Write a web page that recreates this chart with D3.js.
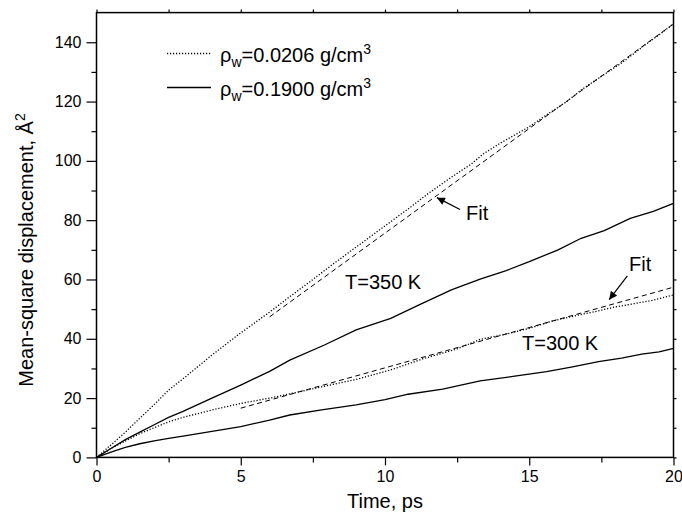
<!DOCTYPE html>
<html>
<head>
<meta charset="utf-8">
<script src="https://cdn.jsdelivr.net/npm/d3@7"></script>
<style>
  body { margin: 0; background: #fff; }
  svg { display: block; font-family: "Liberation Sans", Arial, sans-serif; }
</style>
</head>
<body>
<div id="chart"></div>
<script>
// time (ps) and MSD (A^2)
const t_350_low = [0, 0.5, 1, 1.5, 2, 2.5, 3, 4, 5, 6, 6.7, 7.5, 8.2, 8.8, 9.5, 10.2, 10.9, 11.5, 12.3, 13, 13.4, 14, 15, 15.6, 16.3, 16.8, 17.5, 18.2, 19, 19.5, 20];
const v_350_low = [0, 4.2, 8.5, 13.2, 17.8, 22.7, 26.5, 34.5, 42, 49, 54.2, 60, 65.2, 69.5, 74.5, 79.5, 84.5, 89, 94.5, 99, 102.3, 106, 111.5, 115.5, 120, 123.9, 128.5, 133, 139, 142.5, 146.2];

const t_350_high = [0, 0.5, 1, 1.5, 2, 2.5, 3, 4, 5, 6, 6.7, 7.9, 9, 10.2, 11.2, 12.3, 13.3, 14.2, 15, 16, 16.8, 17.6, 18.5, 19.3, 20];
const v_350_high = [0, 3, 6, 8.5, 11, 13.5, 15.5, 20, 24.4, 29, 32.8, 37.9, 43, 46.9, 51.5, 56.5, 60.1, 63, 66, 70, 73.9, 76.5, 80.6, 83, 85.7];

const t_300_low = [0, 0.5, 1, 1.5, 2, 2.5, 3, 4, 5, 6, 6.7, 7.8, 9, 10.2, 11.3, 12.5, 13.3, 14.2, 15, 15.8, 16.7, 17.3, 17.9, 18.6, 19.3, 20];
const v_300_low = [0, 3, 5.5, 8, 10, 12, 13.5, 16, 18.2, 20, 21.4, 23.8, 26.3, 29.5, 33.2, 36.6, 39.8, 41.6, 43.5, 46, 48, 49.2, 50.6, 51.8, 53, 54.8];

const t_300_high = [0, 0.5, 1, 1.5, 2, 2.5, 3, 4, 5, 6, 6.7, 7.8, 9, 10, 10.8, 12, 13.3, 14.5, 15.6, 16.5, 17.4, 18.2, 18.9, 19.5, 20];
const v_300_high = [0, 1.8, 3.4, 4.6, 5.6, 6.4, 7.2, 8.8, 10.4, 12.6, 14.3, 16, 17.7, 19.5, 21.3, 23, 25.8, 27.4, 28.9, 30.5, 32.3, 33.5, 34.8, 35.6, 36.8];

// linear fits (dashed)
const t_fit_350 = [6, 20];
const v_fit_350 = [47.4, 146.2];
const t_fit_300 = [5, 20];
const v_fit_300 = [16.6, 57.4];

const x_major = [0, 5, 10, 15, 20];
const x_minor = [2.5, 7.5, 12.5, 17.5];
const y_major = [0, 20, 40, 60, 80, 100, 120, 140];
const y_minor = [10, 30, 50, 70, 90, 110, 130];

const legend_items = [
    { density: "0.0206", dash: "1.2,1.8" },
    { density: "0.1900", dash: null }
];

const width = 682, height = 522;
const svg = d3.select("#chart").append("svg")
    .attr("width", width)
    .attr("height", height);

const x = d3.scaleLinear().domain([0, 20]).range([96.5, 673.5]);
const y = d3.scaleLinear().domain([0, 150]).range([457.4, 12.6]);

const zip = (ts, vs) => ts.map((t, i) => [t, vs[i]]);
const line = d3.line().x(d => x(d[0])).y(d => y(d[1]));

// arrow marker
svg.append("defs").append("marker")
    .attr("id", "arrow")
    .attr("viewBox", "0 0 10 10")
    .attr("refX", 10).attr("refY", 5)
    .attr("markerWidth", 10).attr("markerHeight", 8)
    .attr("markerUnits", "userSpaceOnUse")
    .attr("orient", "auto")
    .append("path")
    .attr("d", "M0,0 L10,5 L0,10 Z")
    .attr("fill", "#000");

// axes
const style_axis = (g, font_size) => {
    g.select(".domain").remove();
    g.selectAll("line").attr("stroke", "#000").attr("stroke-width", 1.2);
    g.selectAll("text").attr("fill", "#000").style("font-size", font_size + "px");
};

svg.append("g")
    .attr("transform", `translate(0,${y(0)})`)
    .call(d3.axisBottom(x).tickValues(x_major).tickSize(8).tickPadding(5).tickFormat(d3.format("d")))
    .call(g => style_axis(g, 16));
svg.append("g")
    .attr("transform", `translate(0,${y(0)})`)
    .call(d3.axisBottom(x).tickValues(x_minor).tickSize(5).tickFormat(""))
    .call(g => style_axis(g, 16));

svg.append("g")
    .attr("transform", `translate(${x(0)},0)`)
    .call(d3.axisLeft(y).tickValues(y_major).tickSize(10).tickPadding(5).tickFormat(d3.format("d")))
    .call(g => style_axis(g, 16));
svg.append("g")
    .attr("transform", `translate(${x(0)},0)`)
    .call(d3.axisLeft(y).tickValues(y_minor).tickSize(5).tickFormat(""))
    .call(g => style_axis(g, 16));

// top and right small ticks
svg.append("g")
    .attr("transform", `translate(0,${y(150)})`)
    .call(d3.axisTop(x).tickValues(x_major.concat(x_minor)).tickSize(3).tickFormat(""))
    .call(g => style_axis(g, 16));
svg.append("g")
    .attr("transform", `translate(${x(20)},0)`)
    .call(d3.axisRight(y).tickValues(y_major.concat(y_minor)).tickSize(3).tickFormat(""))
    .call(g => style_axis(g, 16));

// frame
svg.append("rect")
    .attr("x", x(0)).attr("y", y(150))
    .attr("width", x(20) - x(0)).attr("height", y(0) - y(150))
    .attr("fill", "none")
    .attr("stroke", "#000")
    .attr("stroke-width", 1.5);

// axis titles
svg.append("text")
    .attr("x", x(10)).attr("y", 508)
    .attr("text-anchor", "middle")
    .style("font-size", "20px")
    .text("Time, ps");

const y_title = svg.append("text")
    .attr("transform", "translate(33,250) rotate(-90)")
    .attr("text-anchor", "middle")
    .style("font-size", "20px");
y_title.append("tspan").text("Mean-square displacement, Å");
y_title.append("tspan").attr("dy", -8).style("font-size", "14px").text("2");

// curves
const curves = [
    { data: zip(t_350_low, v_350_low), dash: "1.2,1.8" },
    { data: zip(t_300_low, v_300_low), dash: "1.2,1.8" },
    { data: zip(t_350_high, v_350_high), dash: null },
    { data: zip(t_300_high, v_300_high), dash: null },
    { data: zip(t_fit_350, v_fit_350), dash: "5,3.5", w: 1 },
    { data: zip(t_fit_300, v_fit_300), dash: "5,3.5", w: 1 }
];

svg.append("g").selectAll("path")
    .data(curves)
    .join("path")
    .attr("d", d => line(d.data))
    .attr("fill", "none")
    .attr("stroke", "#000")
    .attr("stroke-width", d => d.w || 1.3)
    .attr("stroke-dasharray", d => d.dash);

// legend
const legend = svg.append("g").selectAll("g")
    .data(legend_items)
    .join("g")
    .attr("transform", (d, i) => `translate(0,${53.5 + i * 34})`);

legend.append("line")
    .attr("x1", 167).attr("x2", 211)
    .attr("stroke", "#000")
    .attr("stroke-width", 1.3)
    .attr("stroke-dasharray", d => d.dash);

const legend_text = legend.append("text")
    .attr("x", 220).attr("y", 8)
    .style("font-size", "20px");
legend_text.append("tspan").text("ρ");
legend_text.append("tspan").attr("dy", 5).style("font-size", "14px").text("w");
legend_text.append("tspan").attr("dy", -5).text(d => `=${d.density} g/cm`);
legend_text.append("tspan").attr("dy", -8).style("font-size", "14px").text("3");

// annotations
const add_text = (tx, ty, s) => svg.append("text")
    .attr("x", tx).attr("y", ty)
    .style("font-size", "20px")
    .text(s);

add_text(345, 289, "T=350 K");
add_text(522, 350, "T=300 K");
add_text(466, 220, "Fit");
add_text(629, 271, "Fit");

const arrows = [
    { from: [12.6, 83.6], to: [11.8, 87.6] },
    { from: [18.4, 61.2], to: [17.77, 53.2] }
];
svg.append("g").selectAll("line")
    .data(arrows)
    .join("line")
    .attr("x1", d => x(d.from[0])).attr("y1", d => y(d.from[1]))
    .attr("x2", d => x(d.to[0])).attr("y2", d => y(d.to[1]))
    .attr("stroke", "#000")
    .attr("stroke-width", 1.2)
    .attr("marker-end", "url(#arrow)");
</script>
</body>
</html>
